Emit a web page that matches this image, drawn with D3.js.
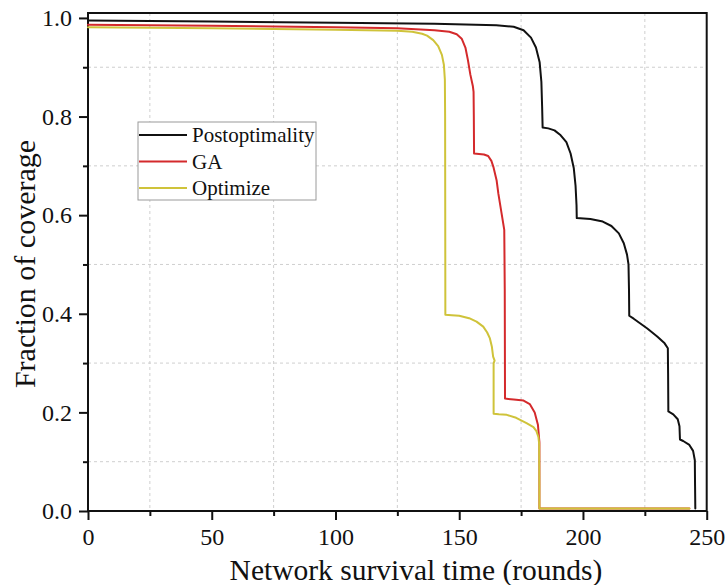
<!DOCTYPE html>
<html>
<head>
<meta charset="utf-8">
<script src="https://cdn.jsdelivr.net/npm/d3@7"></script>
<style>
  html, body { margin: 0; padding: 0; background: #fff; }
  svg { display: block; }
  text { font-family: "Liberation Serif", "Times New Roman", serif; fill: #111; }
</style>
</head>
<body>
<svg id="chart" width="726" height="585"></svg>
<script>
// Coverage curves: [rounds, fraction of coverage]
const postoptimality = [
  [0,0.995],[50,0.993],[100,0.99],[140,0.988],[165,0.985],[172,0.982],[176,0.975],
  [179,0.96],[181,0.94],[182.5,0.91],[183.2,0.87],[183.5,0.82],[183.7,0.778],
  [186,0.776],[188.5,0.772],[191,0.762],[193.3,0.748],[195,0.725],[196.3,0.695],
  [197,0.66],[197.4,0.62],[197.5,0.594],[203,0.592],[208,0.587],[211.5,0.578],
  [214.5,0.563],[216.5,0.543],[217.8,0.52],[218.4,0.5],[218.6,0.45],[218.7,0.396],
  [220.5,0.39],[226,0.37],[230,0.354],[233,0.34],[234.3,0.33],[234.4,0.28],
  [234.5,0.202],[236.5,0.196],[238.3,0.186],[239,0.172],[239.2,0.145],[240.5,0.142],
  [243,0.134],[244.5,0.122],[245.2,0.103],[245.3,0.05],[245.4,0.005]
];
const ga = [
  [0,0.986],[50,0.984],[100,0.981],[125,0.979],[140,0.975],[146,0.972],[149,0.967],
  [151,0.958],[152.5,0.94],[153.5,0.915],[154.5,0.885],[155.5,0.862],[155.8,0.85],
  [155.9,0.8],[156,0.725],[160,0.723],[161.7,0.72],[163,0.71],[163.8,0.698],
  [165.1,0.671],[165.8,0.644],[167.1,0.604],[168.2,0.57],[168.4,0.45],[168.5,0.228],
  [172,0.226],[176,0.224],[178.5,0.217],[180.5,0.2],[181.8,0.175],[182.4,0.14],
  [182.4,0.1],[182.4,0.005],[243,0.005]
];
const optimize = [
  [0,0.981],[50,0.979],[100,0.976],[125,0.974],[131,0.972],[135,0.968],[137,0.964],
  [139.5,0.955],[141.5,0.943],[143,0.925],[143.8,0.905],[144.2,0.875],[144.3,0.8],
  [144.4,0.398],[147,0.397],[150,0.396],[154,0.391],[157,0.384],[159.7,0.374],
  [161.3,0.362],[162.4,0.35],[163.2,0.333],[163.7,0.313],[164.3,0.305],[163.9,0.3],
  [163.9,0.197],[166,0.196],[169.2,0.195],[173,0.189],[177.2,0.178],[180,0.17],
  [181.2,0.162],[182,0.15],[182.3,0.137],[182.4,0.05],[182.4,0.005],[243,0.005]
];

const seriesNames = ["Postoptimality", "GA", "Optimize"];
const seriesData = [postoptimality, ga, optimize];
const seriesColors = ["#111111", "#d42a2c", "#cfc33a"];

const xTicks = [0, 50, 100, 150, 200, 250];
const xMinor = [25, 75, 125, 175, 225];
const yTicks = [0.0, 0.2, 0.4, 0.6, 0.8, 1.0];
const yMinor = [0.1, 0.3, 0.5, 0.7, 0.9];

const svg = d3.select("#chart");
const L = 88, R = 706.7, T = 13, B = 511;

const x = d3.scaleLinear().domain([0, 250]).range([L, R]);
const y = d3.scaleLinear().domain([0, 1.01]).range([B, T]);

// dashed grid on the minor positions
const grid = svg.append("g");
grid.selectAll("line.gx").data(xMinor).join("line")
  .attr("x1", d => x(d)).attr("x2", d => x(d))
  .attr("y1", T).attr("y2", B)
  .attr("stroke", "#cfcfcf").attr("stroke-width", 1).attr("stroke-dasharray", "3,3");
grid.selectAll("line.gy").data(yMinor).join("line")
  .attr("y1", d => y(d)).attr("y2", d => y(d))
  .attr("x1", L).attr("x2", R)
  .attr("stroke", "#cfcfcf").attr("stroke-width", 1).attr("stroke-dasharray", "3,3");

// axes
const fmtY = d3.format(".1f");
const xAxis = svg.append("g").attr("transform", `translate(0,${B})`)
  .call(d3.axisBottom(x).tickValues(xTicks).tickSize(9).tickPadding(8).tickFormat(d3.format("d")));
const xAxisMinor = svg.append("g").attr("transform", `translate(0,${B})`)
  .call(d3.axisBottom(x).tickValues(xMinor).tickSize(5).tickFormat(""));
const yAxis = svg.append("g").attr("transform", `translate(${L},0)`)
  .call(d3.axisLeft(y).tickValues(yTicks).tickSize(9).tickPadding(7).tickFormat(fmtY));
const yAxisMinor = svg.append("g").attr("transform", `translate(${L},0)`)
  .call(d3.axisLeft(y).tickValues(yMinor).tickSize(5).tickFormat(""));

[xAxis, xAxisMinor, yAxis, yAxisMinor].forEach(g => {
  g.select(".domain").remove();
  g.selectAll(".tick line").attr("stroke", "#111").attr("stroke-width", 2);
  g.selectAll(".tick text")
    .attr("font-family", "Liberation Serif, Times New Roman, serif")
    .attr("font-size", 24).attr("fill", "#111");
});

// frame
svg.append("rect")
  .attr("x", L).attr("y", T).attr("width", R - L).attr("height", B - T)
  .attr("fill", "none").attr("stroke", "#111").attr("stroke-width", 2);

// curves, drawn over the frame
const line = d3.line().x(d => x(d[0])).y(d => y(d[1])).curve(d3.curveLinear);
seriesData.forEach((data, i) => {
  svg.append("path")
    .datum(data)
    .attr("fill", "none")
    .attr("stroke", seriesColors[i])
    .attr("stroke-width", 2)
    .attr("stroke-linejoin", "round")
    .attr("stroke-linecap", "round")
    .attr("d", line);
});

// axis titles
svg.append("text")
  .attr("x", 416).attr("y", 580)
  .attr("text-anchor", "middle").attr("font-size", 29.5)
  .text("Network survival time (rounds)");
svg.append("text")
  .attr("transform", "translate(35,264) rotate(-90)")
  .attr("text-anchor", "middle").attr("font-size", 30)
  .text("Fraction of coverage");

// legend
const lg = svg.append("g");
lg.append("rect")
  .attr("x", 138).attr("y", 122).attr("width", 178).attr("height", 78)
  .attr("fill", "#fff").attr("stroke", "#9a9a9a").attr("stroke-width", 1);
seriesNames.forEach((name, i) => {
  const cy = 135 + i * 26.5;
  lg.append("line")
    .attr("x1", 139).attr("x2", 187).attr("y1", cy).attr("y2", cy)
    .attr("stroke", seriesColors[i]).attr("stroke-width", 2.2);
  lg.append("text")
    .attr("x", 192).attr("y", cy + 7)
    .attr("font-size", 21)
    .text(name);
});
</script>
</body>
</html>
